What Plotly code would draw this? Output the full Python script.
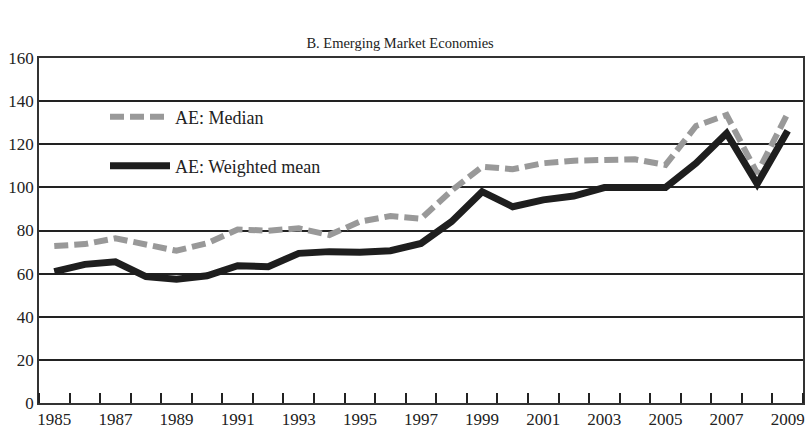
import plotly.graph_objects as go

years = list(range(1985, 2010))
median = [72.8, 73.7, 76.4, 73.3, 70.6, 74.1, 80.5, 79.9, 81.0, 77.9, 84.1, 86.7,
          85.5, 98.5, 109.6, 108.4, 111.2, 112.4, 112.7, 113.0, 110.4, 128.5, 133.6, 106.5, 134.4]
weighted = [60.9, 64.3, 65.5, 58.6, 57.4, 59.0, 63.7, 63.2, 69.4, 70.2, 69.9, 70.6,
            74.0, 84.1, 98.0, 91.0, 94.2, 96.0, 99.9, 100.3, 99.9, 111.2, 125.1, 101.6, 126.3]
label_years = list(range(1985, 2010, 2))
yticks = list(range(0, 161, 20))

FONT = "Liberation Serif"

fig = go.Figure()
fig.add_trace(go.Scatter(x=years, y=median, mode="lines", name="AE: Median",
                         line=dict(color="#999999", width=6, dash="14px,6px"),
                         legend="legend"))
fig.add_trace(go.Scatter(x=years, y=weighted, mode="lines", name="AE: Weighted mean",
                         line=dict(color="#1e1e1e", width=7),
                         legend="legend2"))

plot_w = 805 - 39 - 2
plot_h = 430 - 58 - 27
lx = (105 - 39) / plot_w

fig.update_layout(
    width=805, height=430,
    margin=dict(l=39, r=2, t=58, b=27, autoexpand=False),
    paper_bgcolor="white", plot_bgcolor="white",
    font=dict(family=FONT, color="#222", size=17),
    title=dict(text="B. Emerging Market Economies", x=0.497, xref="container",
               y=0.9, yref="container", xanchor="center", yanchor="middle",
               font=dict(family=FONT, size=14.5, color="#222")),
    legend=dict(x=lx, y=(403 - 117) / plot_h, xanchor="left", yanchor="middle",
                font=dict(family=FONT, size=18, color="#222"), bgcolor="rgba(0,0,0,0)",
                itemwidth=60),
    legend2=dict(x=lx, y=(403 - 166) / plot_h, xanchor="left", yanchor="middle",
                 font=dict(family=FONT, size=18, color="#222"), bgcolor="rgba(0,0,0,0)",
                 itemwidth=60),
    showlegend=True,
)

fig.update_xaxes(range=[1984.5, 2009.5], tickmode="array", tickvals=label_years,
                 ticktext=[str(y) for y in label_years], ticks="", showgrid=False,
                 showline=True, linecolor="#333", linewidth=1.5, mirror=True,
                 tickfont=dict(family=FONT, size=17, color="#222"),
                 minor=dict(tickmode="linear", tick0=1985.5, dtick=1, ticks="inside",
                            ticklen=10, tickwidth=1.5, tickcolor="#222", showgrid=False),
                 zeroline=False)
fig.update_yaxes(range=[0, 160], tickmode="array", tickvals=yticks, ticks="",
                 showgrid=True, gridcolor="#222", gridwidth=1.5,
                 showline=True, linecolor="#333", linewidth=1.5, mirror=True,
                 tickfont=dict(family=FONT, size=17, color="#222"), zeroline=False)

fig.write_html("out.html", config={"displayModeBar": False},
               post_script="document.body.style.margin='0';")
